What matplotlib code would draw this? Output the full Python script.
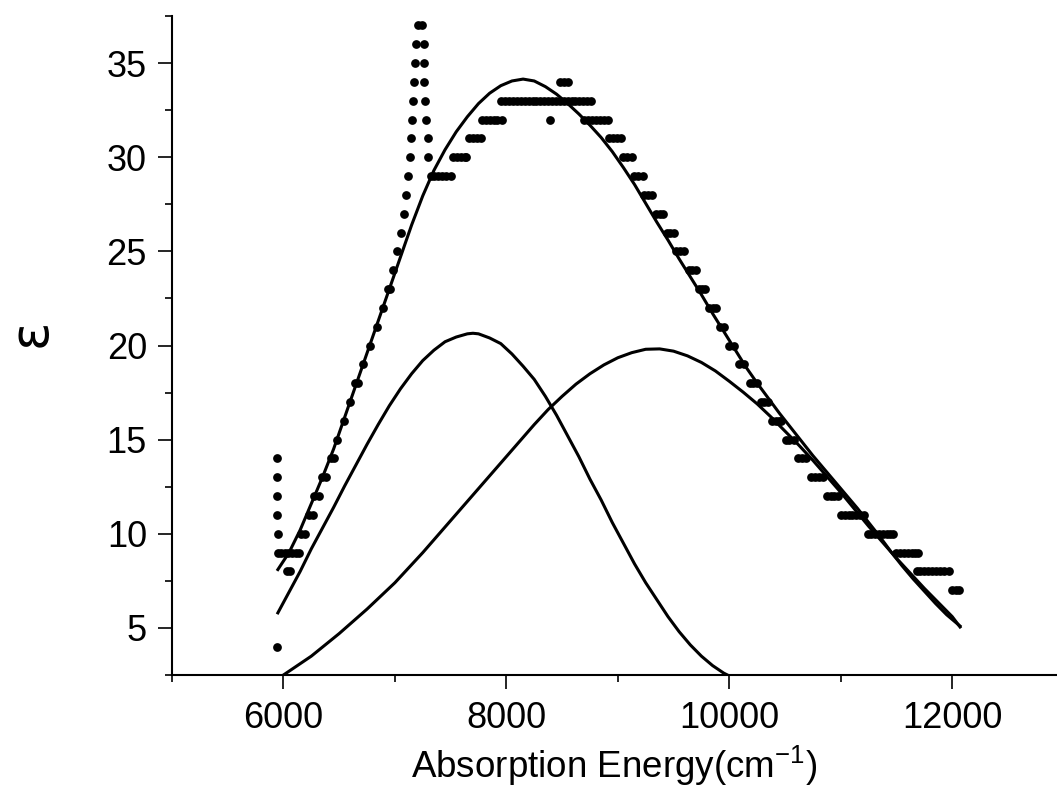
import numpy as np
import matplotlib
matplotlib.use("Agg")
import matplotlib.pyplot as plt
from matplotlib.ticker import MultipleLocator

plt.rcParams['font.family'] = ['Liberation Sans', 'DejaVu Sans']
plt.rcParams['mathtext.fontset'] = 'custom'
plt.rcParams['mathtext.rm'] = 'Liberation Sans'
plt.rcParams['mathtext.it'] = 'Liberation Sans:italic'

# measured points (epsilon is integer-quantised), grouped by level
dot_rows = [
    (37, [7210, 7240]),
    (36, [7188, 7262]),
    (35, [7180, 7260]),
    (34, [7172, 7262, 8485, 8520, 8550]),
    (33, [7160, 7270, 7955, 7990, 8025, 8060, 8095, 8130, 8165, 8200, 8235, 8270,
          8305, 8340, 8375, 8410, 8445, 8480, 8515, 8550, 8585, 8620, 8655, 8690,
          8720, 8760]),
    (32, [7155, 7280, 7785, 7820, 7855, 7890, 7920, 7960, 8390, 8695, 8730, 8770,
          8805, 8840, 8880, 8910]),
    (31, [7140, 7295, 7665, 7700, 7740, 7775, 8920, 8955, 8990, 9025]),
    (30, [7132, 7298, 7525, 7560, 7595, 7625, 7640, 9045, 9080, 9125]),
    (29, [7118, 7320, 7355, 7390, 7425, 7460, 7500, 9145, 9185, 9225]),
    (28, [7102, 9235, 9270, 9310]),
    (27, [7085, 9340, 9375, 9405]),
    (26, [7052, 9440, 9470, 9500]),
    (25, [7020, 9525, 9560, 9595]),
    (24, [6980, 9635, 9665, 9700]),
    (23, [6935, 6955, 9725, 9755, 9780]),
    (22, [6890, 9815, 9850, 9880]),
    (21, [6840, 9915, 9950]),
    (20, [6775, 9995, 10040]),
    (19, [6715, 10085, 10130]),
    (18, [6640, 6665, 10185, 10215, 10245]),
    (17, [6595, 10285, 10315, 10345]),
    (16, [6540, 10380, 10415, 10445, 10465]),
    (15, [6480, 10505, 10540, 10580]),
    (14, [5940, 6425, 6455, 10620, 10650, 10685]),
    (13, [5940, 6345, 6385, 10735, 10770, 10805, 10840]),
    (12, [5940, 6275, 6315, 10875, 10910, 10940, 10975]),
    (11, [5940, 6225, 6265, 11000, 11035, 11070, 11100, 11135, 11170, 11205]),
    (10, [5950, 6155, 6195, 11240, 11275, 11310, 11345, 11380, 11415, 11445, 11465]),
    (9, [5950, 5975, 6010, 6045, 6075, 6110, 6140, 11495, 11530, 11565, 11600,
         11635, 11665, 11690]),
    (8, [6030, 6055, 11680, 11715, 11750, 11785, 11820, 11855, 11890, 11925, 11970]),
    (7, [11995, 12030, 12065]),
    (4, [5940]),
]

# fitted total band
fit_x = [5950, 6050, 6150, 6250, 6350, 6450, 6550, 6650, 6750, 6850, 6950, 7050,
         7150, 7250, 7350, 7450, 7550, 7650, 7750, 7850, 7950, 8050, 8150, 8250,
         8350, 8450, 8550, 8650, 8750, 8850, 8950, 9050, 9150, 9250, 9350, 9450,
         9550, 9650, 9750, 9850, 9950, 10050, 10150, 10250, 10350, 10450, 10550,
         10650, 10750, 10850, 10950, 11050, 11150, 11250, 11350, 11450, 11550,
         11650, 11750, 11850, 11950, 12070]
fit_y = [8.1, 9.0, 10.2, 11.6, 13.0, 14.5, 16.2, 17.9, 19.6, 21.3, 23.0, 24.7,
         26.4, 27.95, 29.3, 30.4, 31.35, 32.15, 32.85, 33.4, 33.8, 34.05, 34.15, 34.05,
         33.75, 33.35, 32.85, 32.3, 31.7, 31.05, 30.3, 29.45, 28.55, 27.55, 26.55, 25.6,
         24.6, 23.65, 22.7, 21.7, 20.75, 19.8, 18.85, 18.0, 17.2, 16.4, 15.65,
         14.9, 14.15, 13.45, 12.75, 12.05, 11.35, 10.6, 9.85, 9.05, 8.3,
         7.6, 6.95, 6.3, 5.7, 5.1]

# first component
c1_x = [5950, 6050, 6150, 6250, 6350, 6450, 6550, 6650, 6750, 6850, 6950, 7050,
        7150, 7250, 7350, 7450, 7550, 7650, 7700, 7750, 7850, 7950, 8050, 8150,
        8250, 8350, 8450, 8550, 8650, 8750, 8850, 8950, 9050, 9150, 9250, 9350,
        9450, 9550, 9650, 9750, 9850, 9950, 10000]
c1_y = [5.8, 6.9, 8.0, 9.2, 10.3, 11.4, 12.55, 13.65, 14.75, 15.8, 16.8, 17.7,
        18.5, 19.2, 19.75, 20.2, 20.45, 20.62, 20.65, 20.62, 20.4, 20.1, 19.55, 18.9,
        18.2, 17.3, 16.3, 15.2, 14.1, 12.9, 11.8, 10.6, 9.5, 8.4, 7.4, 6.5,
        5.6, 4.8, 4.1, 3.5, 3.0, 2.6, 2.45]

# second component
c2_x = [6000, 6125, 6250, 6375, 6500, 6625, 6750, 6875, 7000, 7125, 7250, 7375,
        7500, 7625, 7750, 7875, 8000, 8125, 8250, 8375, 8500, 8625, 8750, 8875,
        9000, 9125, 9250, 9375, 9500, 9625, 9750, 9875, 10000, 10125, 10250, 10375,
        10500, 10625, 10750, 10875, 11000, 11125, 11250, 11375, 11500, 11625,
        11750, 11875, 12000, 12070]
c2_y = [2.5, 3.0, 3.5, 4.1, 4.7, 5.35, 6.0, 6.7, 7.4, 8.2, 9.0, 9.85,
        10.7, 11.55, 12.4, 13.25, 14.1, 14.95, 15.8, 16.6, 17.3, 17.95, 18.5, 18.97,
        19.35, 19.62, 19.8, 19.82, 19.7, 19.45, 19.1, 18.65, 18.1, 17.52, 16.9, 16.2,
        15.45, 14.7, 13.9, 13.05, 12.2, 11.3, 10.4, 9.55, 8.7, 7.9,
        7.1, 6.35, 5.6, 5.05]

fig = plt.figure(figsize=(10.57, 7.89), dpi=100)
ax = fig.add_axes([0.1627, 0.1445, 0.8373, 0.8352])

for level, xs in dot_rows:
    ax.plot(xs, [level] * len(xs), 'o', color='black', ms=6.3, mec='none')

ax.plot(fit_x, fit_y, color='black', lw=2.2)
ax.plot(c1_x, c1_y, color='black', lw=2.2)
ax.plot(c2_x, c2_y, color='black', lw=2.2)

ax.set_xlim(5000, 12940)
ax.set_ylim(2.5, 37.5)
ax.xaxis.set_major_locator(MultipleLocator(2000))
ax.xaxis.set_minor_locator(MultipleLocator(1000))
ax.yaxis.set_major_locator(MultipleLocator(5))
ax.yaxis.set_minor_locator(MultipleLocator(2.5))

for s in ['top', 'right']:
    ax.spines[s].set_visible(False)
for s in ['left', 'bottom']:
    ax.spines[s].set_linewidth(1.5)

ax.tick_params(which='major', direction='out', length=10, width=1.2, labelsize=26)
ax.tick_params(which='minor', direction='out', length=5, width=1.2)
ax.tick_params(axis='x', which='major', pad=9)
ax.tick_params(axis='y', which='major', pad=8)

ax.set_xlabel('Absorption Energy(cm$^{-1}$)', fontsize=26.5, labelpad=5)
ax.set_ylabel('ε', fontsize=38, family=['DejaVu Sans'])
ax.yaxis.set_label_coords(-0.13, 0.52)

fig.savefig('out.png', dpi=100)
